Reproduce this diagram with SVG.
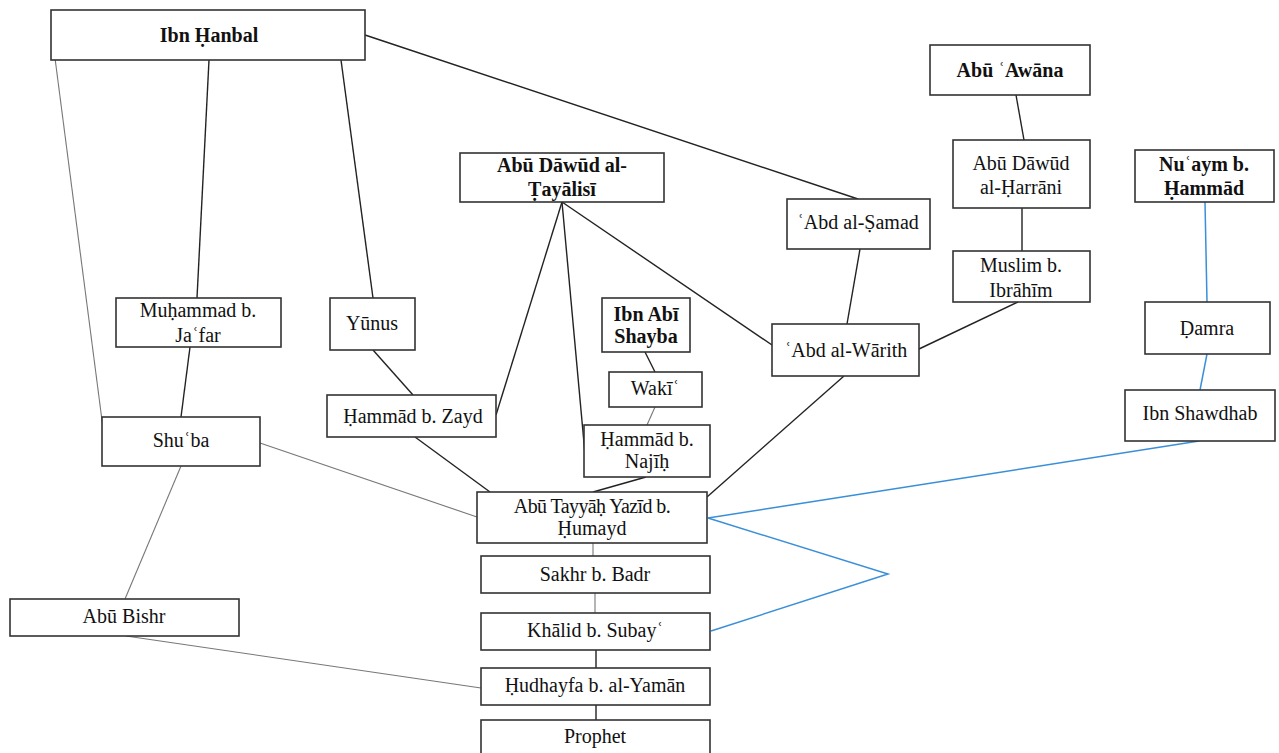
<svg xmlns="http://www.w3.org/2000/svg" width="1279" height="753" viewBox="0 0 1279 753">
  <style>
    .box { fill: #ffffff; stroke: #333333; stroke-width: 1.6; }
    .t { font-family: "Liberation Serif", "Times New Roman", serif; font-size: 20px; fill: #111111; text-anchor: middle; }
    .b { font-weight: bold; }
    .dark { stroke: #222222; stroke-width: 1.4; fill: none; }
    .grey { stroke: #777777; stroke-width: 1.1; fill: none; }
    .blue { stroke: #3a8fd8; stroke-width: 1.5; fill: none; }
  </style>
  <rect width="1279" height="753" fill="#ffffff"/>

  <!-- connectors -->
  <g id="connectors">
    <line class="grey" x1="52" y1="35" x2="103" y2="428"/>
    <line class="dark" x1="209" y1="60" x2="197" y2="298"/>
    <line class="dark" x1="341" y1="60" x2="373" y2="298"/>
    <line class="dark" x1="365" y1="35" x2="858" y2="199"/>
    <line class="dark" x1="190" y1="347" x2="181" y2="417"/>
    <line class="grey" x1="181" y1="466" x2="125" y2="599"/>
    <line class="grey" x1="260" y1="443" x2="477" y2="517"/>
    <line class="dark" x1="373" y1="350" x2="413" y2="395"/>
    <line class="dark" x1="415" y1="437" x2="490" y2="492"/>
    <line class="dark" x1="562" y1="202" x2="496" y2="415"/>
    <line class="dark" x1="562" y1="202" x2="585" y2="454"/>
    <line class="dark" x1="562" y1="202" x2="772" y2="345"/>
    <line class="dark" x1="860" y1="249" x2="847" y2="324"/>
    <line class="dark" x1="1016" y1="95" x2="1024" y2="140"/>
    <line class="dark" x1="1022" y1="208" x2="1022" y2="251"/>
    <line class="dark" x1="1018" y1="302" x2="919" y2="349"/>
    <line class="dark" x1="844" y1="376" x2="707" y2="497"/>
    <line class="dark" x1="645" y1="352" x2="655" y2="372"/>
    <line class="grey" x1="655" y1="407" x2="647" y2="425"/>
    <line class="dark" x1="646" y1="477" x2="593" y2="492"/>
    <line class="grey" x1="593" y1="543" x2="593" y2="556"/>
    <line class="grey" x1="595" y1="593" x2="595" y2="613"/>
    <line class="dark" x1="596" y1="650" x2="596" y2="668"/>
    <line class="dark" x1="596" y1="705" x2="596" y2="720"/>
    <line class="grey" x1="126" y1="636" x2="481" y2="688"/>
    <line class="blue" x1="1205" y1="202" x2="1207" y2="302"/>
    <line class="blue" x1="1207" y1="354" x2="1200" y2="390"/>
    <line class="blue" x1="1199" y1="441" x2="708" y2="518"/>
    <polyline class="blue" points="708,518 888,574 711,631"/>
  </g>

  <!-- nodes -->
  <g id="ibn-hanbal">
    <rect class="box" x="51" y="10" width="314" height="50"/>
    <text class="t b" x="209" y="42">Ibn Ḥanbal</text>
  </g>
  <g id="abu-awana">
    <rect class="box" x="930" y="45" width="160" height="50"/>
    <text class="t b" x="1010" y="77">Abū ʿAwāna</text>
  </g>
  <g id="tayalisi">
    <rect class="box" x="460" y="153" width="204" height="49"/>
    <text class="t b" x="562" y="172">Abū Dāwūd al-</text>
    <text class="t b" x="562" y="196">Ṭayālisī</text>
  </g>
  <g id="nuaym">
    <rect class="box" x="1135" y="150" width="139" height="52"/>
    <text class="t b" x="1204" y="171">Nuʿaym b.</text>
    <text class="t b" x="1204" y="195">Ḥammād</text>
  </g>
  <g id="harrani">
    <rect class="box" x="953" y="140" width="137" height="68"/>
    <text class="t" x="1021" y="170">Abū Dāwūd</text>
    <text class="t" x="1021" y="194">al-Ḥarrāni</text>
  </g>
  <g id="abd-al-samad">
    <rect class="box" x="787" y="199" width="143" height="50"/>
    <text class="t" x="858" y="229">ʿAbd al-Ṣamad</text>
  </g>
  <g id="muslim">
    <rect class="box" x="953" y="251" width="137" height="51"/>
    <text class="t" x="1021" y="272">Muslim b.</text>
    <text class="t" x="1021" y="297">Ibrāhīm</text>
  </g>
  <g id="muhammad-jafar">
    <rect class="box" x="116" y="298" width="165" height="49"/>
    <text class="t" x="198" y="317">Muḥammad b.</text>
    <text class="t" x="198" y="342">Jaʿfar</text>
  </g>
  <g id="yunus">
    <rect class="box" x="330" y="298" width="85" height="52"/>
    <text class="t" x="372" y="330">Yūnus</text>
  </g>
  <g id="ibn-abi-shayba">
    <rect class="box" x="602" y="298" width="88" height="54"/>
    <text class="t b" x="646" y="321">Ibn Abī</text>
    <text class="t b" x="646" y="343">Shayba</text>
  </g>
  <g id="abd-al-warith">
    <rect class="box" x="772" y="324" width="147" height="52"/>
    <text class="t" x="846" y="357">ʿAbd al-Wārith</text>
  </g>
  <g id="damra">
    <rect class="box" x="1145" y="302" width="125" height="52"/>
    <text class="t" x="1207" y="335">Ḍamra</text>
  </g>
  <g id="waki">
    <rect class="box" x="609" y="372" width="93" height="35"/>
    <text class="t" x="655" y="395">Wakīʿ</text>
  </g>
  <g id="hammad-zayd">
    <rect class="box" x="327" y="395" width="169" height="42"/>
    <text class="t" x="413" y="423">Ḥammād b. Zayd</text>
  </g>
  <g id="ibn-shawdhab">
    <rect class="box" x="1125" y="390" width="150" height="51"/>
    <text class="t" x="1200" y="420">Ibn Shawdhab</text>
  </g>
  <g id="shuba">
    <rect class="box" x="102" y="417" width="158" height="49"/>
    <text class="t" x="181" y="447">Shuʿba</text>
  </g>
  <g id="hammad-najih">
    <rect class="box" x="584" y="425" width="126" height="52"/>
    <text class="t" x="647" y="446">Ḥammād b.</text>
    <text class="t" x="647" y="468">Najīḥ</text>
  </g>
  <g id="abu-tayyah">
    <rect class="box" x="477" y="492" width="230" height="51"/>
    <text class="t" x="592" y="513" letter-spacing="-0.6">Abū Tayyāḥ Yazīd b.</text>
    <text class="t" x="592" y="535">Ḥumayd</text>
  </g>
  <g id="sakhr">
    <rect class="box" x="481" y="556" width="229" height="37"/>
    <text class="t" x="595" y="581">Sakhr b. Badr</text>
  </g>
  <g id="abu-bishr">
    <rect class="box" x="10" y="599" width="229" height="37"/>
    <text class="t" x="124" y="623">Abū Bishr</text>
  </g>
  <g id="khalid">
    <rect class="box" x="481" y="613" width="229" height="37"/>
    <text class="t" x="595" y="637">Khālid b. Subayʿ</text>
  </g>
  <g id="hudhayfa">
    <rect class="box" x="481" y="668" width="229" height="37"/>
    <text class="t" x="595" y="692">Ḥudhayfa b. al-Yamān</text>
  </g>
  <g id="prophet">
    <rect class="box" x="481" y="720" width="229" height="40"/>
    <text class="t" x="595" y="743">Prophet</text>
  </g>
</svg>
